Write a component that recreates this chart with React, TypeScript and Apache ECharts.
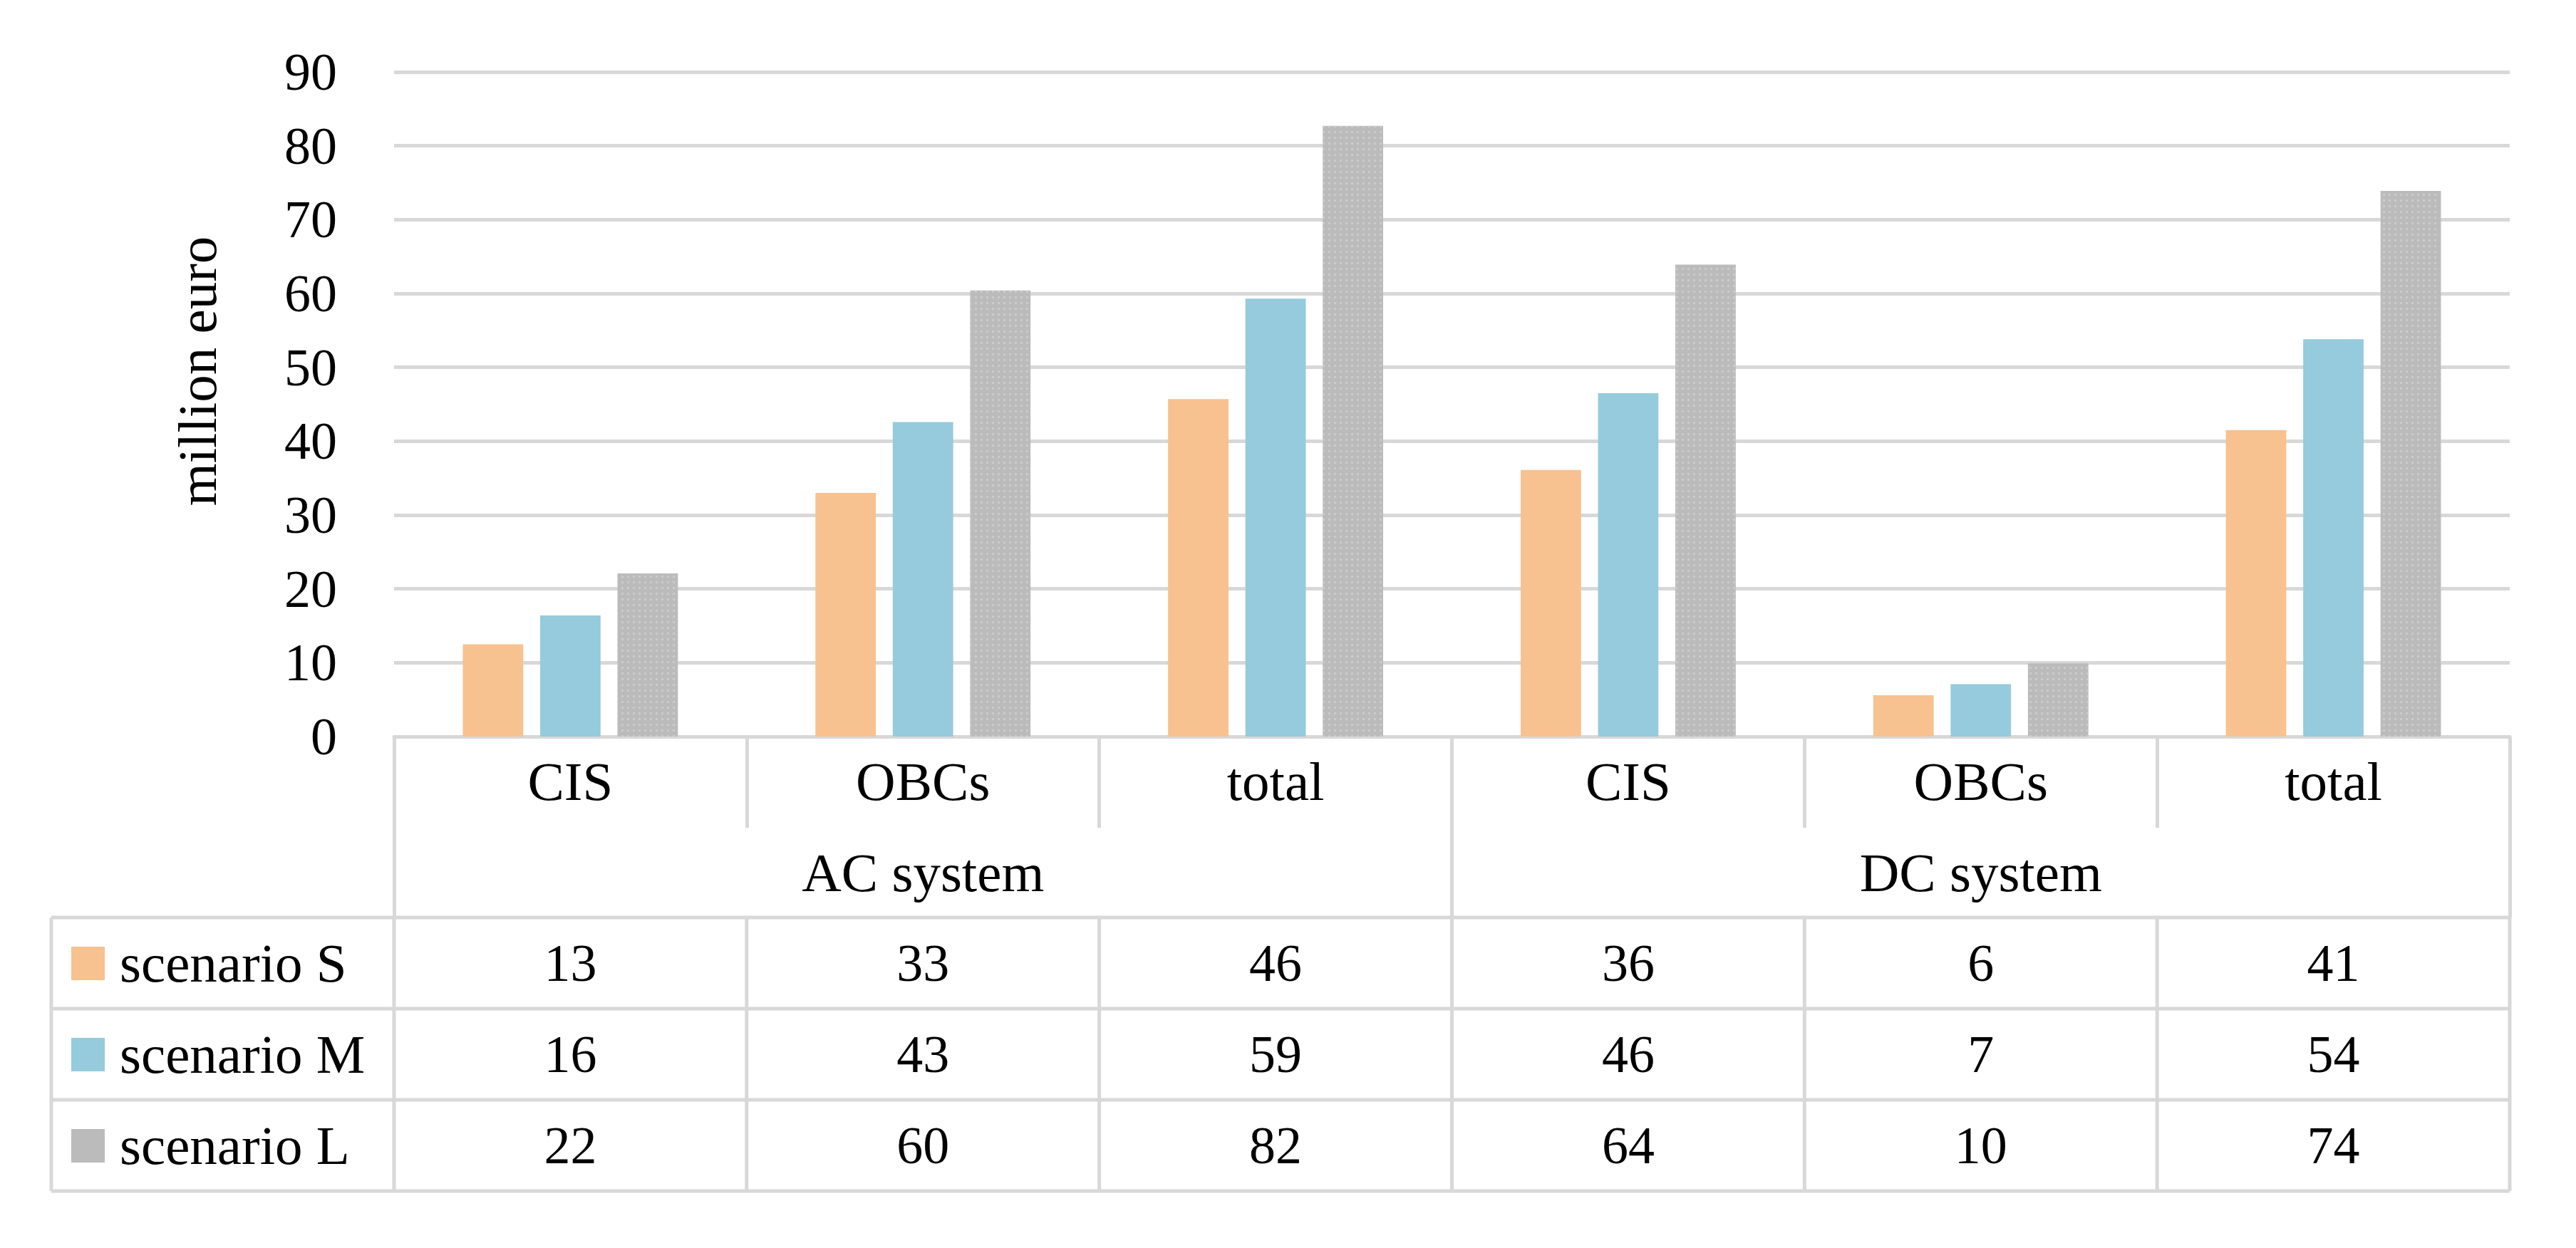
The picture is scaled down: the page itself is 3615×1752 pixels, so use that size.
import React, { useEffect, useRef } from "react";
import * as echarts from "echarts";

const categories = ["CIS", "OBCs", "total", "CIS", "OBCs", "total"];
const groups = ["AC system", "DC system"];
const scenarios = ["scenario S", "scenario M", "scenario L"];
const valuesS = [12.5, 33.0, 45.7, 36.1, 5.6, 41.5];
const valuesM = [16.4, 42.6, 59.3, 46.5, 7.1, 53.8];
const valuesL = [22.1, 60.4, 82.7, 63.9, 9.9, 73.9];
const tableS = ["13", "33", "46", "36", "6", "41"];
const tableM = ["16", "43", "59", "46", "7", "54"];
const tableL = ["22", "60", "82", "64", "10", "74"];
const yMin = 0;
const yMax = 90;
const yInterval = 10;
const yTitle = "million euro";

const colors = ["#F8C190", "#95CBDC", "#BBBBBB"];
const FONT = "'Liberation Serif', 'Times New Roman', serif";
const FS = 74;
const FSW = 77;
const LINE = "#D8D8D8";
const LW = 5;

const W = 3615;
const H = 1752;
const GL = 553;
const GR = 3522;
const GT = 101;
const GB = 1034;
const CAT_ROW = 128;
const GROUP_ROW = 126;
const ROW_TOP = GB + CAT_ROW + GROUP_ROW; // 1288
const ROW_H = 128;
const LEG_L = 72;

const grayDecal = {
  symbol: "rect",
  symbolSize: 1,
  color: "rgba(206,206,206,0.9)",
  dashArrayX: [3, 5],
  dashArrayY: [3, 5],
  rotation: 0,
};

export default function App() {
  const ref = useRef<HTMLDivElement>(null);
  useEffect(() => {
    document.body.style.margin = "0";
    if (!ref.current) return;
    const chart = echarts.init(ref.current, undefined, { renderer: "svg" });
    const catW = (GR - GL) / categories.length;
    const graphics: any[] = [];
    const line = (x1: number, y1: number, x2: number, y2: number) => ({
      type: "line",
      shape: { x1, y1, x2, y2 },
      style: { stroke: LINE, lineWidth: LW },
      silent: true,
    });
    const tableRows = [tableS, tableM, tableL];
    const rowBottom = ROW_TOP + ROW_H * tableRows.length;
    for (let r = 0; r <= tableRows.length; r++) {
      const y = ROW_TOP + r * ROW_H;
      graphics.push(line(LEG_L, y, GR, y));
    }
    graphics.push(line(LEG_L, ROW_TOP, LEG_L, rowBottom));
    for (let c = 0; c <= categories.length; c++) {
      const x = GL + c * catW;
      graphics.push(line(x, ROW_TOP, x, rowBottom));
    }
    tableRows.forEach((row, r) => {
      const cy = ROW_TOP + r * ROW_H + ROW_H / 2;
      graphics.push({
        type: "rect",
        shape: { x: 100, y: cy - 23, width: 47, height: 47 },
        style: { fill: colors[r] },
      });
      graphics.push({
        type: "text",
        x: 168,
        y: cy,
        style: {
          text: scenarios[r],
          fontSize: FSW,
          fontFamily: FONT,
          fill: "#000",
          align: "left",
          verticalAlign: "middle",
          textAlign: "left",
          textVerticalAlign: "middle",
        },
      });
      row.forEach((t, c) => {
        graphics.push({
          type: "text",
          x: GL + (c + 0.5) * catW,
          y: cy,
          style: {
            text: t,
            fontSize: FS,
            fontFamily: FONT,
            fill: "#000",
            align: "center",
            verticalAlign: "middle",
            textAlign: "center",
            textVerticalAlign: "middle",
          },
        });
      });
    });
    graphics.push({
      type: "text",
      x: 277,
      y: 521,
      rotation: Math.PI / 2,
      style: {
        text: yTitle,
        fontSize: FSW,
        fontFamily: FONT,
        fill: "#000",
        align: "center",
        verticalAlign: "middle",
        textAlign: "center",
        textVerticalAlign: "middle",
      },
    });

    const seriesVals = [valuesS, valuesM, valuesL];
    chart.setOption({
      animation: false,
      grid: { left: GL, top: GT, width: GR - GL, height: GB - GT, containLabel: false },
      xAxis: [
        {
          type: "category",
          data: categories,
          position: "bottom",
          axisLine: { show: true, lineStyle: { color: LINE, width: LW } },
          axisTick: { show: true, length: CAT_ROW, lineStyle: { color: LINE, width: LW } },
          axisLabel: { margin: 26, fontSize: FSW, fontFamily: FONT, color: "#000", lineHeight: FS },
          splitLine: { show: false },
        },
        {
          type: "category",
          data: groups,
          position: "bottom",
          offset: CAT_ROW,
          axisLine: { show: false },
          axisTick: { show: true, length: GROUP_ROW, lineStyle: { color: LINE, width: LW } },
          axisLabel: { margin: 26, fontSize: FSW, fontFamily: FONT, color: "#000", lineHeight: FS },
          splitLine: { show: false },
        },
      ],
      yAxis: {
        type: "value",
        min: yMin,
        max: yMax,
        interval: yInterval,
        axisLine: { show: false },
        axisTick: { show: false },
        axisLabel: { margin: 80, fontSize: FS, fontFamily: FONT, color: "#000" },
        splitLine: { show: true, lineStyle: { color: LINE, width: LW } },
      },
      series: seriesVals.map((v, i) => ({
        type: "bar",
        name: scenarios[i],
        data: v,
        xAxisIndex: 0,
        barGap: "28%",
        barCategoryGap: "39%",
        itemStyle: i === 2 ? { color: colors[i], decal: grayDecal } : { color: colors[i] },
      })),
      graphic: graphics,
    });
    return () => chart.dispose();
  }, []);
  return <div ref={ref} style={{ width: W, height: H, background: "#fff" }} />;
}
